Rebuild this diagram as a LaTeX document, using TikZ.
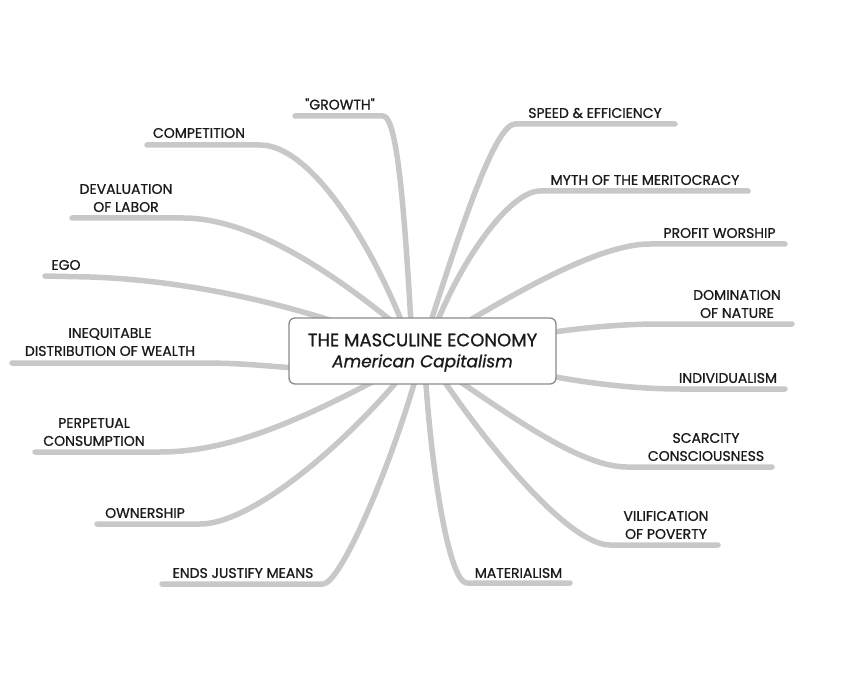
\documentclass[tikz,border=0pt]{standalone}
\usepackage{fontspec}
\setmainfont{Poppins}[FakeBold=0.9]
\newfontfamily\plainquote{Poppins}[FakeBold=0.9]
\definecolor{branchgray}{HTML}{C8C8C8}
\definecolor{boxgray}{HTML}{8A8A8A}
\definecolor{ink}{HTML}{1A1A1A}
\tikzset{
  branch/.style={draw=branchgray, line width=5.5pt, line cap=round, line join=round},
  leaf/.style={text=ink, font=\fontsize{14}{18}\selectfont, align=center, inner sep=0pt},
  hubbox/.style={draw=boxgray, line width=1.3pt, fill=white, rounded corners=6pt,
    minimum width=267pt, minimum height=66pt, inner sep=0pt, text=ink, align=center}
}
\begin{document}
\begin{tikzpicture}[x=1pt,y=-1pt]
\useasboundingbox (0,0) rectangle (845,684);
% ---------- leaf labels ----------
\node[leaf] (growth) at (340,104) {\plainquote "GROWTH"};
\node[leaf] (competition) at (199,133) {COMPETITION};
\node[leaf] (devaluation) at (126,198) {DEVALUATION\\OF LABOR};
\node[leaf] (ego) at (66,265) {EGO};
\node[leaf] (inequitable) at (110,342) {INEQUITABLE\\DISTRIBUTION OF WEALTH};
\node[leaf] (perpetual) at (94,432) {PERPETUAL\\CONSUMPTION};
\node[leaf] (ownership) at (145,513) {OWNERSHIP};
\node[leaf] (ends) at (243,573) {ENDS JUSTIFY MEANS};
\node[leaf] (speed) at (595,113) {SPEED \& EFFICIENCY};
\node[leaf] (myth) at (645,180) {MYTH OF THE MERITOCRACY};
\node[leaf] (profit) at (719.5,233) {PROFIT WORSHIP};
\node[leaf] (domination) at (737,304) {DOMINATION\\OF NATURE};
\node[leaf] (individualism) at (728,378) {INDIVIDUALISM};
\node[leaf] (scarcity) at (706,447) {SCARCITY\\CONSCIOUSNESS};
\node[leaf] (vilification) at (666,525) {VILIFICATION\\OF POVERTY};
\node[leaf] (materialism) at (518.5,573) {MATERIALISM};
% ---------- underline end points and inner ends ----------
\coordinate (growthE) at (295,116);   \coordinate (growthC) at (383,116);   \coordinate (growthB) at (412,340);
\coordinate (compE) at (147,145);     \coordinate (compC) at (260,145);     \coordinate (compB) at (405,330);
\coordinate (devE) at (72,218);       \coordinate (devC) at (183,218);      \coordinate (devB) at (400,328);
\coordinate (egoE) at (45,276);       \coordinate (egoC) at (90,277);       \coordinate (egoB) at (345,325);
\coordinate (ineqE) at (12,363);      \coordinate (ineqC) at (200,363);     \coordinate (ineqB) at (300,368);
\coordinate (perpE) at (35,452);      \coordinate (perpC) at (160,452);     \coordinate (perpB) at (380,378);
\coordinate (ownE) at (97,524);       \coordinate (ownC) at (200,524);      \coordinate (ownB) at (405,372);
\coordinate (endsE) at (162,584);     \coordinate (endsC) at (323,584);     \coordinate (endsB) at (418,370);
\coordinate (speedE) at (675,124);    \coordinate (speedC) at (515,124);    \coordinate (speedB) at (425,340);
\coordinate (mythE) at (748,191);     \coordinate (mythC) at (540,191);     \coordinate (mythB) at (432,335);
\coordinate (profE) at (785,244);     \coordinate (profC) at (650,244);     \coordinate (profB) at (450,332);
\coordinate (domE) at (792,324);      \coordinate (domC) at (660,324);      \coordinate (domB) at (540,334);
\coordinate (indE) at (785,389);      \coordinate (indC) at (680,389);      \coordinate (indB) at (540,374);
\coordinate (scarE) at (772,467);     \coordinate (scarC) at (627,467);     \coordinate (scarB) at (450,375);
\coordinate (vilE) at (718,545);      \coordinate (vilC) at (610,545);      \coordinate (vilB) at (438,372);
\coordinate (matE) at (570,583);      \coordinate (matC) at (467,583);      \coordinate (matB) at (425,370);
% ---------- branches ----------
\draw[branch] (growthE) -- (growthC) .. controls (398,116) and (405,220) .. (growthB);
\draw[branch] (compE) -- (compC) .. controls (310,145) and (370,240) .. (compB);
\draw[branch] (devE) -- (devC) .. controls (250,218) and (330,270) .. (devB);
\draw[branch] (egoE) -- (egoC) .. controls (180,280) and (270,300) .. (egoB);
\draw[branch] (ineqE) -- (ineqC) .. controls (250,363) and (270,367) .. (ineqB);
\draw[branch] (perpE) -- (perpC) .. controls (230,452) and (300,420) .. (perpB);
\draw[branch] (ownE) -- (ownC) .. controls (250,524) and (340,450) .. (ownB);
\draw[branch] (endsE) -- (endsC) .. controls (340,584) and (390,470) .. (endsB);
\draw[branch] (speedE) -- (speedC) .. controls (495,124) and (460,230) .. (speedB);
\draw[branch] (mythE) -- (mythC) .. controls (510,191) and (460,260) .. (mythB);
\draw[branch] (profE) -- (profC) .. controls (600,244) and (520,290) .. (profB);
\draw[branch] (domE) -- (domC) .. controls (620,324) and (580,328) .. (domB);
\draw[branch] (indE) -- (indC) .. controls (630,389) and (580,382) .. (indB);
\draw[branch] (scarE) -- (scarC) .. controls (580,467) and (510,415) .. (scarB);
\draw[branch] (vilE) -- (vilC) .. controls (570,545) and (490,450) .. (vilB);
\draw[branch] (matE) -- (matC) .. controls (450,583) and (432,480) .. (matB);
% ---------- central node ----------
\node[hubbox] (center) at (422.5,351) {};
\node[text=ink, inner sep=0pt, font=\fontsize{18}{20}\selectfont] (title) at (422.5,340) {THE MASCULINE ECONOMY};
\node[text=ink, inner sep=0pt, font=\fontsize{17}{20}\selectfont\itshape] (subtitle) at (422.5,363) {American Capitalism};
\end{tikzpicture}
\end{document}
